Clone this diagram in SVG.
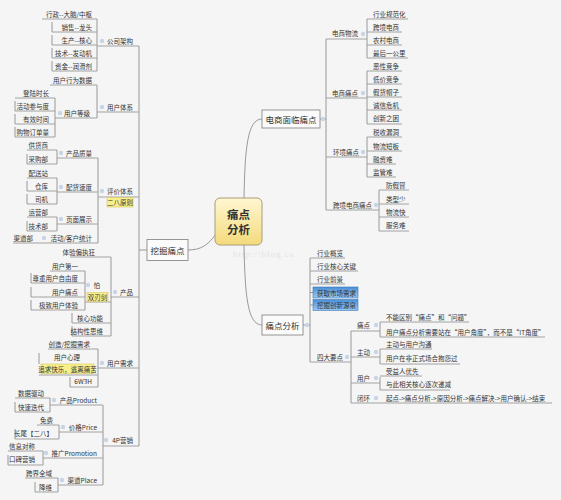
<svg xmlns="http://www.w3.org/2000/svg" width="561" height="500" viewBox="0 0 561 500">
<defs>
<style>
.t{font-family:"Noto Sans CJK SC","Noto Sans",sans-serif;font-size:6.5px;fill:#333;dominant-baseline:central}
.e{text-anchor:end}
.m{text-anchor:middle}
.b2{font-size:8.5px}
.u{stroke:#9a9a9a;stroke-width:0.9;fill:none}
.c{stroke:#8f8f8f;stroke-width:0.9;fill:none}
.i{fill:#c8d5e8}
.box{fill:#fbfbfb;stroke:#8a8a8a;stroke-width:0.9}
.y{fill:#f9ef8c;stroke:#d6c65a;stroke-width:0.6}
.bl{fill:url(#blue);stroke:#3d78b8;stroke-width:0.6}
.wm{font-family:"Liberation Serif",serif;font-size:9px;fill:#e3e3e3;letter-spacing:1px}
</style>
<linearGradient id="gold" x1="0" y1="0" x2="0" y2="1">
<stop offset="0" stop-color="#fff7d2"/>
<stop offset="1" stop-color="#f4da7c"/>
</linearGradient>
<linearGradient id="blue" x1="0" y1="0" x2="0" y2="1">
<stop offset="0" stop-color="#4b8fd8"/>
<stop offset="1" stop-color="#98c8f2"/>
</linearGradient>
</defs>
<rect width="561" height="500" fill="#f5f5f5"/>
<text class="wm" x="233" y="257">http://blog.cs</text>

<g id="connectors">
<!-- center curves -->
<path class="c" d="M244,198 C245,150 247,119 262,119"/>
<path class="c" d="M244,245 C245,293 247,325 262,325"/>
<path class="c" d="M188,250 C201,250 208,245 216,234"/>
<!-- left main -->
<path class="c" d="M139,46 V446"/>
<path class="c" d="M139,250 H147"/>
<!-- 公司架构 -->
<path class="c" d="M97,19 V71 M52,22 V32 M52,35 V45 M52,48 V58 M52,61 V71"/>
<!-- 用户体系 -->
<path class="c" d="M97,85 V118 M55,98 V137 M15,101 V111 M15,114 V124 M15,127 V137"/>
<!-- 评价体系 -->
<path class="c" d="M98,158 V243 M57,150 V164 M27,154 V164 M57,178 V204 M27,181 V191 M27,194 V204 M57,217 V231 M27,221 V231"/>
<!-- 产品 -->
<path class="c" d="M111,257 V336 M85,271 V310 M31,273 V283 M31,287 V297 M31,300 V310 M72,313 V323 M72,326 V336"/>
<!-- 用户需求 -->
<path class="c" d="M98,349 V387 M39,353 V364 M70,377 V387"/>
<!-- 4P营销 -->
<path class="c" d="M103,405 V485 M50,398 V412 M15,402 V412 M59,425 V439 M15,429 V439 M43,451 V465 M8,455 V465 M58,478 V492 M35,482 V492"/>
<!-- right top -->
<path class="c" d="M320,119 H326 M326,39 V210 M367,19 V58 M367,71 V124 M367,137 V177 M379,190 V231"/>
<!-- right bottom -->
<path class="c" d="M303,325 H310 M310,258 V362 M310,292.5 H313 M310,305 H313 M351,331 V403 M380,322 V337 M380,349 V364 M380,377 V390"/>
</g>

<g id="center">
<rect x="215" y="198" width="47" height="47" rx="5" fill="url(#gold)" stroke="#a89e7a" stroke-width="1"/>
<text class="t m" x="238.5" y="214" style="font-size:11.5px;font-weight:bold">痛点</text>
<text class="t m" x="238.5" y="229" style="font-size:11.5px;font-weight:bold">分析</text>
</g>

<!-- LEFT SIDE -->
<g id="n-wajue">
<rect class="box" x="147" y="239.5" width="41" height="21"/>
<text class="t m b2" x="167.5" y="250">挖掘痛点</text>
</g>

<g id="n-gongsi">
<text class="t e" x="133" y="41">公司架构</text><path class="u" d="M97,46 H139"/><circle class="i" cx="102" cy="41" r="2.2"/>
</g>
<g id="n-xingzheng"><text class="t e" x="92" y="14">行政--大脑/中枢</text><path class="u" d="M42,19 H97"/></g>
<g id="n-xiaoshou"><text class="t e" x="92" y="27">销售--龙头</text><path class="u" d="M52,32 H97"/></g>
<g id="n-shengchan"><text class="t e" x="92" y="40">生产--核心</text><path class="u" d="M52,45 H97"/></g>
<g id="n-jishu"><text class="t e" x="92" y="53">技术--发动机</text><path class="u" d="M52,58 H97"/></g>
<g id="n-zijin"><text class="t e" x="92" y="66">资金--润滑剂</text><path class="u" d="M52,71 H97"/></g>

<g id="n-yonghutixi">
<text class="t e" x="133" y="107">用户体系</text><path class="u" d="M97,112 H139"/><circle class="i" cx="102" cy="107" r="2.2"/>
</g>
<g id="n-xingwei"><text class="t e" x="92" y="80">用户行为数据</text><path class="u" d="M50,85 H97"/></g>
<g id="n-dengji"><text class="t e" x="90" y="113">用户等级</text><path class="u" d="M55,118 H97"/><circle class="i" cx="60" cy="113" r="2.2"/></g>
<g id="n-denglu"><text class="t e" x="49" y="93">登陆时长</text><path class="u" d="M15,98 H55"/></g>
<g id="n-huodong"><text class="t e" x="49" y="106">活动参与度</text><path class="u" d="M15,111 H55"/></g>
<g id="n-youxiao"><text class="t e" x="49" y="119">有效时间</text><path class="u" d="M15,124 H55"/></g>
<g id="n-gouwu"><text class="t e" x="49" y="132">购物订单量</text><path class="u" d="M15,137 H55"/></g>

<g id="n-pingjia">
<text class="t e" x="133" y="191">评价体系</text><path class="u" d="M98,197 H139"/><circle class="i" cx="102" cy="191" r="2.2"/>
<rect class="y" x="107" y="197.5" width="26" height="9.5"/><text class="t m" x="120" y="202.3">二八原则</text>
</g>
<g id="n-zhiliang"><text class="t e" x="92" y="153">产品质量</text><path class="u" d="M57,158 H98"/><circle class="i" cx="61" cy="153" r="2.2"/></g>
<g id="n-gonghuo"><text class="t e" x="48" y="145">供货商</text><path class="u" d="M27,150 H57"/></g>
<g id="n-caigou"><text class="t e" x="48" y="159">采购部</text><path class="u" d="M27,164 H57"/></g>
<g id="n-peihuo"><text class="t e" x="92" y="187">配货速度</text><path class="u" d="M57,192 H98"/><circle class="i" cx="61" cy="187" r="2.2"/></g>
<g id="n-peisong"><text class="t e" x="48" y="173">配送站</text><path class="u" d="M27,178 H57"/></g>
<g id="n-cangku"><text class="t e" x="48" y="186">仓库</text><path class="u" d="M27,191 H57"/></g>
<g id="n-siji"><text class="t e" x="48" y="199">司机</text><path class="u" d="M27,204 H57"/></g>
<g id="n-yemian"><text class="t e" x="92" y="219">页面展示</text><path class="u" d="M57,224 H98"/><circle class="i" cx="61" cy="219" r="2.2"/></g>
<g id="n-yunying"><text class="t e" x="48" y="212">运营部</text><path class="u" d="M27,217 H57"/></g>
<g id="n-jishubu"><text class="t e" x="48" y="226">技术部</text><path class="u" d="M27,231 H57"/></g>
<g id="n-tongji"><text class="t e" x="92" y="238">活动/客户统计</text><path class="u" d="M40,243 H98"/><circle class="i" cx="44" cy="238" r="2.2"/></g>
<g id="n-qudao"><text class="t e" x="33" y="238">渠道部</text><path class="u" d="M13,243 H40"/></g>

<g id="n-chanpin">
<text class="t e" x="133" y="292">产品</text><path class="u" d="M111,297 H139"/><circle class="i" cx="115" cy="292" r="2.2"/>
</g>
<g id="n-tiyan"><text class="t e" x="95" y="252">体验偏执狂</text><path class="u" d="M70,257 H111"/></g>
<g id="n-pa">
<text class="t e" x="100" y="285">怕</text><circle class="i" cx="88" cy="285" r="2.2"/><path class="u" d="M85,302 H111"/>
<rect class="y" x="87" y="292.5" width="21" height="9"/><text class="t m" x="97.5" y="297">双刃剑</text>
</g>
<g id="n-diyi"><text class="t e" x="78" y="266">用户第一</text><path class="u" d="M50,271 H85"/></g>
<g id="n-zunzhong"><text class="t e" x="78" y="278">尊重用户自由度</text><path class="u" d="M31,283 H85"/></g>
<g id="n-tongdian"><text class="t e" x="78" y="292">用户痛点</text><path class="u" d="M31,297 H85"/></g>
<g id="n-jizhi"><text class="t e" x="78" y="305">极致用户体验</text><path class="u" d="M31,310 H85"/></g>
<g id="n-hexin"><text class="t e" x="103" y="318">核心功能</text><path class="u" d="M72,323 H111"/></g>
<g id="n-jiegou"><text class="t e" x="103" y="331">结构性思维</text><path class="u" d="M72,336 H111"/></g>

<g id="n-xuqiu">
<text class="t e" x="133" y="363">用户需求</text><path class="u" d="M98,368 H139"/><circle class="i" cx="102" cy="363" r="2.2"/>
</g>
<g id="n-chuangzao"><text class="t e" x="90" y="344">创造/挖掘需求</text><path class="u" d="M48,349 H98"/></g>
<g id="n-xinli">
<text class="t e" x="80" y="357">用户心理</text><path class="u" d="M39,375 H98"/>
<rect class="y" x="41" y="364" width="53" height="9.5"/><text class="t m" x="67.5" y="368.8">追求快乐，逃离痛苦</text>
</g>
<g id="n-6w3h"><text class="t e" x="92" y="381">6W3H</text><path class="u" d="M70,387 H98"/></g>

<g id="n-4p">
<text class="t e" x="133" y="440">4P营销</text><path class="u" d="M103,446 H139"/><circle class="i" cx="106" cy="440" r="2.2"/>
</g>
<g id="n-product"><text class="t e" x="97" y="400">产品Product</text><path class="u" d="M50,405 H103"/><circle class="i" cx="54" cy="400" r="2.2"/></g>
<g id="n-shuju"><text class="t e" x="44" y="393">数据驱动</text><path class="u" d="M15,398 H50"/></g>
<g id="n-kuaisu"><text class="t e" x="44" y="407">快速迭代</text><path class="u" d="M15,412 H50"/></g>
<g id="n-price"><text class="t e" x="97" y="427">价格Price</text><path class="u" d="M59,432 H103"/><circle class="i" cx="63" cy="427" r="2.2"/></g>
<g id="n-mianfei"><text class="t e" x="53" y="420">免费</text><path class="u" d="M37,425 H59"/></g>
<g id="n-changwei"><text class="t e" x="53" y="433">长尾【二八】</text><path class="u" d="M15,439 H59"/></g>
<g id="n-promotion"><text class="t e" x="97" y="453">推广Promotion</text><path class="u" d="M43,458 H103"/><circle class="i" cx="46" cy="453" r="2.2"/></g>
<g id="n-xinxi"><text class="t e" x="35" y="446">信息对称</text><path class="u" d="M8,451 H43"/></g>
<g id="n-koubei"><text class="t e" x="35" y="459">口碑营销</text><path class="u" d="M8,465 H43"/></g>
<g id="n-place"><text class="t e" x="97" y="480">渠道Place</text><path class="u" d="M58,485 H103"/><circle class="i" cx="62" cy="480" r="2.2"/></g>
<g id="n-kuajie"><text class="t e" x="52" y="473">跨界全域</text><path class="u" d="M25,478 H58"/></g>
<g id="n-jiangwei"><text class="t e" x="52" y="487">降维</text><path class="u" d="M35,492 H58"/></g>

<!-- RIGHT TOP -->
<g id="n-dianshang">
<rect class="box" x="262" y="110" width="58" height="18"/>
<text class="t m b2" x="291" y="119">电商面临痛点</text>
<circle class="i" cx="323" cy="119" r="2.2"/>
</g>
<g id="n-wuliu"><text class="t" x="332" y="33">电商物流</text><path class="u" d="M326,39 H367"/><circle class="i" cx="363" cy="34" r="2.2"/></g>
<g id="n-guifan"><text class="t" x="373" y="14">行业规范化</text><path class="u" d="M367,19 H408"/></g>
<g id="n-kuajing"><text class="t" x="373" y="27">跨境电商</text><path class="u" d="M367,32 H402"/></g>
<g id="n-nongcun"><text class="t" x="373" y="40">农村电商</text><path class="u" d="M367,45 H402"/></g>
<g id="n-zuihou"><text class="t" x="373" y="53">最后一公里</text><path class="u" d="M367,58 H408"/></g>

<g id="n-dstongdian"><text class="t" x="332" y="93">电商痛点</text><path class="u" d="M326,98 H367"/><circle class="i" cx="363" cy="93" r="2.2"/></g>
<g id="n-exing"><text class="t" x="373" y="66">恶性竞争</text><path class="u" d="M367,71 H402"/></g>
<g id="n-dijia"><text class="t" x="373" y="79">低价竞争</text><path class="u" d="M367,84 H402"/></g>
<g id="n-jiahuo"><text class="t" x="373" y="92">假货帽子</text><path class="u" d="M367,97 H402"/></g>
<g id="n-chengxin"><text class="t" x="373" y="105">诚信危机</text><path class="u" d="M367,110 H402"/></g>
<g id="n-chuangxin"><text class="t" x="373" y="118">创新之困</text><path class="u" d="M367,124 H402"/></g>

<g id="n-huanjing"><text class="t" x="333" y="152">环境痛点</text><path class="u" d="M326,157 H367"/><circle class="i" cx="363" cy="152" r="2.2"/></g>
<g id="n-shuishou"><text class="t" x="373" y="132">税收漏洞</text><path class="u" d="M367,137 H402"/></g>
<g id="n-duanban"><text class="t" x="373" y="146">物流短板</text><path class="u" d="M367,151 H402"/></g>
<g id="n-rongzi"><text class="t" x="373" y="159">融资难</text><path class="u" d="M367,164 H396"/></g>
<g id="n-jianguan"><text class="t" x="373" y="172">监管难</text><path class="u" d="M367,177 H396"/></g>

<g id="n-kjtongdian"><text class="t" x="333" y="205">跨境电商痛点</text><path class="u" d="M326,210 H379"/><circle class="i" cx="376" cy="205" r="2.2"/></g>
<g id="n-fangjia"><text class="t" x="386" y="185">防假冒</text><path class="u" d="M379,190 H409"/></g>
<g id="n-leixing"><text class="t" x="386" y="199">类型少</text><path class="u" d="M379,204 H409"/></g>
<g id="n-wuliukuai"><text class="t" x="386" y="212">物流快</text><path class="u" d="M379,217 H409"/></g>
<g id="n-fuwu"><text class="t" x="386" y="225">服务难</text><path class="u" d="M379,231 H409"/></g>

<!-- RIGHT BOTTOM -->
<g id="n-fenxi">
<rect class="box" x="262" y="315" width="41" height="20"/>
<text class="t m b2" x="282.5" y="325">痛点分析</text>
<circle class="i" cx="307" cy="325" r="2.2"/>
</g>
<g id="n-gailan"><text class="t" x="317" y="253">行业概览</text><path class="u" d="M310,258 H345"/></g>
<g id="n-guanjian"><text class="t" x="317" y="266">行业核心关键</text><path class="u" d="M310,271 H358"/></g>
<g id="n-qianjing"><text class="t" x="317" y="279">行业前景</text><path class="u" d="M310,284 H345"/></g>
<g id="n-huoqu"><rect class="bl" x="313" y="287" width="45" height="11"/><text class="t" x="317" y="292.5">获取市场需求</text></g>
<g id="n-yuanquan"><rect class="bl" x="313" y="299.5" width="45" height="11"/><text class="t" x="317" y="305">挖掘创新源泉</text></g>

<g id="n-sida"><text class="t" x="317" y="357">四大要点</text><path class="u" d="M310,362 H351"/><circle class="i" cx="347" cy="357" r="2.2"/></g>
<g id="n-td"><text class="t" x="357" y="325">痛点</text><path class="u" d="M351,331 H380"/><circle class="i" cx="376" cy="325" r="2.2"/></g>
<g id="n-buneng"><text class="t" x="386" y="317">不能区别“痛点”和“问题”</text><path class="u" d="M380,322 H469"/></g>
<g id="n-jiaodu"><text class="t" x="386" y="332">用户痛点分析需要站在“用户角度”，而不是“IT角度”</text><path class="u" d="M380,337 H545"/></g>
<g id="n-zhudong"><text class="t" x="357" y="352">主动</text><path class="u" d="M351,357 H380"/><circle class="i" cx="376" cy="352" r="2.2"/></g>
<g id="n-goutong"><text class="t" x="386" y="344">主动与用户沟通</text><path class="u" d="M380,349 H432"/></g>
<g id="n-baoyuan"><text class="t" x="386" y="358">用户在非正式场合抱怨过</text><path class="u" d="M380,364 H460"/></g>
<g id="n-yonghu"><text class="t" x="357" y="378">用户</text><path class="u" d="M351,383 H380"/><circle class="i" cx="376" cy="378" r="2.2"/></g>
<g id="n-shouyi"><text class="t" x="386" y="371">受益人优先</text><path class="u" d="M380,376 H422"/></g>
<g id="n-dijian"><text class="t" x="386" y="384">与此相关核心逐次递减</text><path class="u" d="M380,390 H450"/></g>
<g id="n-bihuan"><text class="t" x="357" y="398">闭环</text><path class="u" d="M351,403 H383"/><circle class="i" cx="376" cy="398" r="2.2"/></g>
<g id="n-liucheng"><text class="t" x="386" y="398">起点-&gt;痛点分析-&gt;原因分析-&gt;痛点解决-&gt;用户确认-&gt;结束</text><path class="u" d="M383,403 H552"/></g>
</svg>
